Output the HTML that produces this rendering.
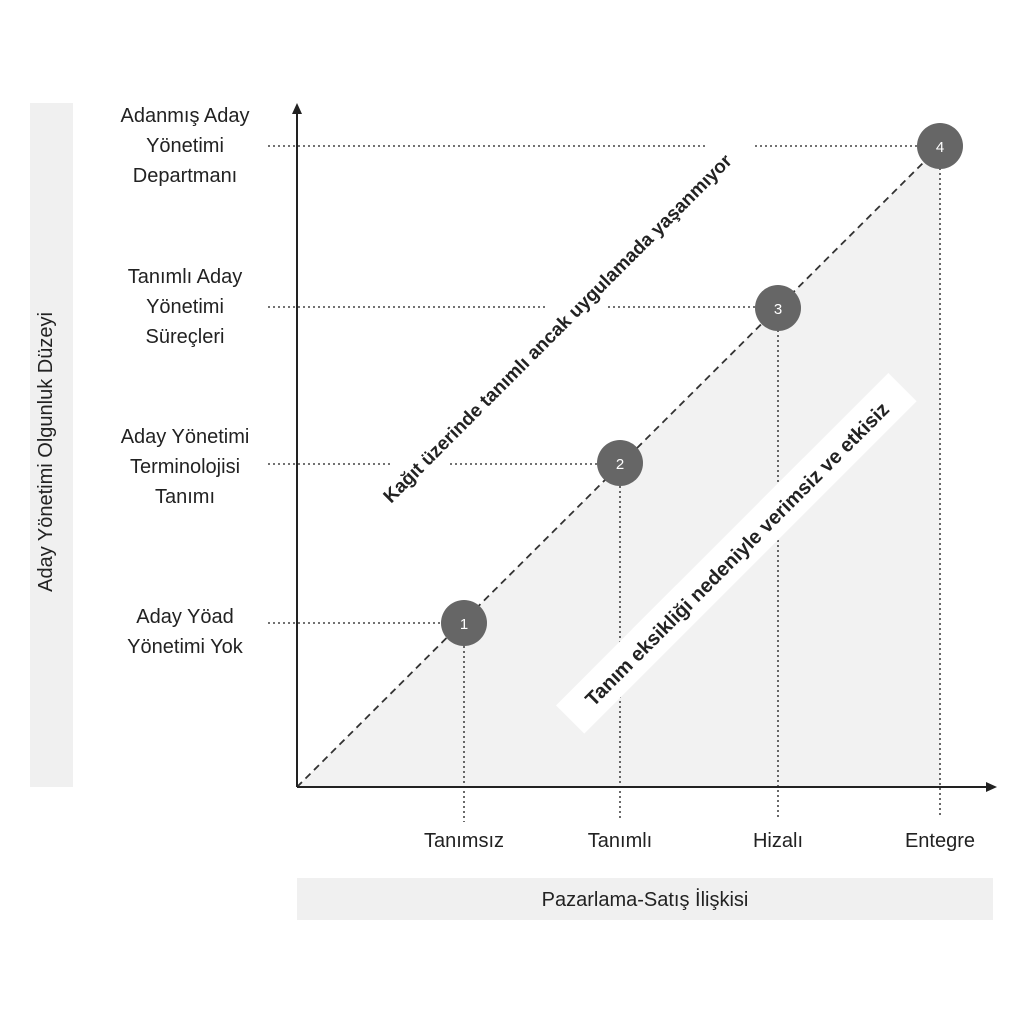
<!DOCTYPE html>
<html><head><meta charset="utf-8"><style>
html,body{margin:0;padding:0;background:#fff;}
svg{display:block;font-family:"Liberation Sans","DejaVu Sans",sans-serif;}
</style></head><body>
<svg width="1024" height="1024" viewBox="0 0 1024 1024" xmlns="http://www.w3.org/2000/svg">
<rect x="0" y="0" width="1024" height="1024" fill="#fff"/>
<!-- side panels -->
<rect x="30" y="103" width="43" height="684" fill="#f0f0f0"/>
<text x="52" y="452" transform="rotate(-90 52 452)" text-anchor="middle" font-size="20" fill="#222">Aday Yönetimi Olgunluk Düzeyi</text>
<rect x="297" y="878" width="696" height="42" fill="#f0f0f0"/>
<text x="645" y="906" text-anchor="middle" font-size="20" fill="#222">Pazarlama-Satış İlişkisi</text>
<!-- shaded triangle -->
<polygon points="297,787 940,146 940,787" fill="#f2f2f2"/>
<!-- dotted guide lines -->
<g stroke="#444" stroke-width="1.6" stroke-dasharray="2,3" fill="none">
<line x1="268" y1="146" x2="705" y2="146"/><line x1="755" y1="146" x2="918" y2="146"/>
<line x1="268" y1="307" x2="548" y2="307"/><line x1="608" y1="307" x2="756" y2="307"/>
<line x1="268" y1="464" x2="390" y2="464"/><line x1="450" y1="464" x2="598" y2="464"/>
<line x1="268" y1="623" x2="441" y2="623"/>
<line x1="464" y1="646" x2="464" y2="822"/>
<line x1="620" y1="486" x2="620" y2="818"/>
<line x1="778" y1="330" x2="778" y2="818"/>
<line x1="940" y1="168" x2="940" y2="818"/>
</g>
<!-- diagonal -->
<line x1="297" y1="787" x2="940" y2="146" stroke="#333" stroke-width="1.8" stroke-dasharray="7,5"/>
<!-- axes -->
<g stroke="#222" stroke-width="2" fill="none">
<line x1="297" y1="787" x2="297" y2="110"/>
<line x1="297" y1="787" x2="990" y2="787"/>
</g>
<polygon points="297,103 292,114 302,114" fill="#222"/>
<polygon points="997,787 986,782 986,792" fill="#222"/>
<!-- circles -->
<g fill="#666">
<circle cx="464" cy="623" r="23"/><circle cx="620" cy="463" r="23"/>
<circle cx="778" cy="308" r="23"/><circle cx="940" cy="146" r="23"/>
</g>
<g fill="#fff" font-size="15" text-anchor="middle">
<text x="464" y="629">1</text><text x="620" y="469">2</text>
<text x="778" y="314">3</text><text x="940" y="152">4</text>
</g>
<!-- rotated texts -->
<text x="562" y="333" transform="rotate(-45 562 333)" text-anchor="middle" font-size="19" font-weight="bold" fill="#222">Kağıt üzerinde tanımlı ancak uygulamada yaşanmıyor</text>
<g transform="rotate(-45 737 554)">
<rect x="502" y="533" width="470" height="40" fill="#fff"/>
<text x="737" y="561" text-anchor="middle" font-size="20" font-weight="bold" fill="#222">Tanım eksikliği nedeniyle verimsiz ve etkisiz</text>
</g>
<!-- y labels -->
<g font-size="20" fill="#222" text-anchor="middle">
<text x="185" y="122">Adanmış Aday</text><text x="185" y="152">Yönetimi</text><text x="185" y="182">Departmanı</text>
<text x="185" y="283">Tanımlı Aday</text><text x="185" y="313">Yönetimi</text><text x="185" y="343">Süreçleri</text>
<text x="185" y="443">Aday Yönetimi</text><text x="185" y="473">Terminolojisi</text><text x="185" y="503">Tanımı</text>
<text x="185" y="623">Aday Yöad</text><text x="185" y="653">Yönetimi Yok</text>
</g>
<!-- x labels -->
<g font-size="20" fill="#222" text-anchor="middle">
<text x="464" y="847">Tanımsız</text><text x="620" y="847">Tanımlı</text>
<text x="778" y="847">Hizalı</text><text x="940" y="847">Entegre</text>
</g>
</svg>
</body></html>
